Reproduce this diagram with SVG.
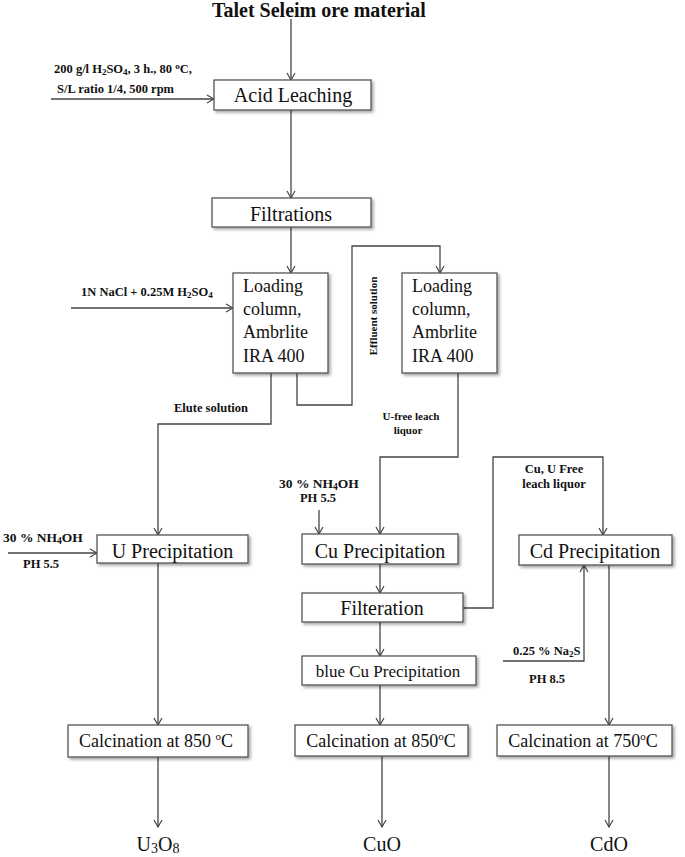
<svg xmlns="http://www.w3.org/2000/svg" width="685" height="857" viewBox="0 0 685 857">
<style>
.box{fill:#fff;stroke:#555;stroke-width:1.3;filter:url(#sh)}
.t{font-family:"Liberation Serif","Times New Roman",serif;fill:#111}
.big{font-size:20px}
.mid{font-size:18px}
.lbl{font-size:11px;font-weight:bold}
.lb2{font-size:12.5px;font-weight:bold}
.lb3{font-size:13.5px;font-weight:bold}
.c{text-anchor:middle}
.con{fill:none;stroke:#444;stroke-width:1.3}
.arr{marker-end:url(#ah)}
</style>
<defs>
<filter id="sh" x="-10%" y="-20%" width="125%" height="150%">
<feDropShadow dx="2" dy="2" stdDeviation="1.6" flood-color="#000" flood-opacity="0.35"/>
</filter>
<marker id="ah" markerWidth="10" markerHeight="10" refX="9" refY="5" orient="auto" markerUnits="userSpaceOnUse">
<path d="M2,1 L9,5 L2,9" fill="none" stroke="#444" stroke-width="1.2"/>
</marker>
</defs>

<g id="connectors">
<path class="con arr" d="M291,19 V80"/>
<path class="con arr" d="M51,99 H214"/>
<path class="con arr" d="M291,110 V198"/>
<path class="con arr" d="M291,227 V273"/>
<path class="con arr" d="M71,308 H233"/>
<path class="con arr" d="M297,373 V405 H352 V246 H440 V273"/>
<path class="con arr" d="M271,373 V424 H158 V535"/>
<path class="con arr" d="M8,553 H97"/>
<path class="con arr" d="M458,373 V457 H380 V534"/>
<path class="con arr" d="M319,510 V534"/>
<path class="con arr" d="M380,564 V593"/>
<path class="con arr" d="M463,608 H493 V457 H603 V535"/>
<path class="con arr" d="M380,622 V656"/>
<path class="con arr" d="M380,685 V725"/>
<path class="con arr" d="M503,661 H584 V565"/>
<path class="con arr" d="M609,565 V725"/>
<path class="con arr" d="M158,563 V725"/>
<path class="con arr" d="M158,757 V827"/>
<path class="con arr" d="M382,756 V827"/>
<path class="con arr" d="M609,756 V827"/>
</g>

<g id="labels">
<text class="t" x="212" y="17" font-size="20" font-weight="bold">Talet Seleim ore material</text>
<text class="t lb2" x="54" y="73">200 g/l H<tspan font-size="9" dy="2">2</tspan><tspan dy="-2">SO</tspan><tspan font-size="9" dy="2">4</tspan><tspan dy="-2">, 3 h., 80  </tspan><tspan font-size="9" dy="-4">o</tspan><tspan dy="4">C,</tspan></text>
<text class="t lb2" x="57" y="93">S/L ratio 1/4, 500 rpm</text>
<text class="t lb2" x="81" y="296">1N NaCl + 0.25M H<tspan font-size="9" dy="2">2</tspan><tspan dy="-2">SO</tspan><tspan font-size="9" dy="2">4</tspan></text>
<text class="t lbl" transform="translate(377,316) rotate(-90)" text-anchor="middle">Effluent solution</text>
<text class="t lb2" x="174" y="412">Elute solution</text>
<text class="t lbl c" x="411" y="420">U-free leach</text>
<text class="t lbl c" x="408" y="434">liquor</text>
<text class="t lb2 c" x="554" y="473">Cu, U Free</text>
<text class="t lb2 c" x="554" y="488">leach liquor</text>
<text class="t lb3" x="279" y="488">30 % NH<tspan font-size="9.5" dy="2">4</tspan><tspan dy="-2">OH</tspan></text>
<text class="t lb2 c" x="318" y="502">PH 5.5</text>
<text class="t lb3" x="3" y="542">30 % NH<tspan font-size="9.5" dy="2">4</tspan><tspan dy="-2">OH</tspan></text>
<text class="t lb2" x="23" y="568">PH 5.5</text>
<text class="t lb2" x="513" y="655">0.25 % Na<tspan font-size="9" dy="2">2</tspan><tspan dy="-2">S</tspan></text>
<text class="t lb2" x="529" y="683">PH 8.5</text>
<text class="t big c" x="158" y="851">U<tspan font-size="14" dy="2">3</tspan><tspan dy="-2">O</tspan><tspan font-size="14" dy="2">8</tspan></text>
<text class="t big c" x="382" y="851">CuO</text>
<text class="t big c" x="609" y="851">CdO</text>
</g>

<g id="acid-leaching">
<rect class="box" x="214" y="80" width="157" height="30"/>
<text class="t big c" x="293" y="102">Acid Leaching</text>
</g>
<g id="filtrations">
<rect class="box" x="212" y="198" width="159" height="29"/>
<text class="t big c" x="291" y="221">Filtrations</text>
</g>
<g id="loading-column-1">
<rect class="box" x="233" y="273" width="95" height="100"/>
<text class="t mid" x="243" y="292">Loading</text>
<text class="t mid" x="243" y="315">column,</text>
<text class="t mid" x="243" y="338">Ambrlite</text>
<text class="t mid" x="243" y="362">IRA 400</text>
</g>
<g id="loading-column-2">
<rect class="box" x="402" y="273" width="95" height="100"/>
<text class="t mid" x="412" y="292">Loading</text>
<text class="t mid" x="412" y="315">column,</text>
<text class="t mid" x="412" y="338">Ambrlite</text>
<text class="t mid" x="412" y="362">IRA 400</text>
</g>
<g id="u-precipitation">
<rect class="box" x="97" y="535" width="151" height="28"/>
<text class="t big c" x="172.5" y="558">U Precipitation</text>
</g>
<g id="cu-precipitation">
<rect class="box" x="302" y="534" width="156" height="30"/>
<text class="t big c" x="380" y="558">Cu Precipitation</text>
</g>
<g id="cd-precipitation">
<rect class="box" x="519" y="535" width="153" height="30"/>
<text class="t big c" x="595" y="558">Cd Precipitation</text>
</g>
<g id="filteration">
<rect class="box" x="302" y="593" width="161" height="29"/>
<text class="t big c" x="382" y="615">Filteration</text>
</g>
<g id="blue-cu-precipitation">
<rect class="box" x="302" y="656" width="174" height="29"/>
<text class="t c" x="388" y="677" font-size="17">blue Cu Precipitation</text>
</g>
<g id="calcination-u">
<rect class="box" x="68" y="725" width="180" height="32"/>
<text class="t mid c" x="156" y="747">Calcination at 850 <tspan font-size="11" dy="-7">o</tspan><tspan dy="7">C</tspan></text>
</g>
<g id="calcination-cu">
<rect class="box" x="295" y="725" width="173" height="31"/>
<text class="t mid c" x="381" y="747">Calcination at 850<tspan font-size="11" dy="-7">o</tspan><tspan dy="7">C</tspan></text>
</g>
<g id="calcination-cd">
<rect class="box" x="497" y="725" width="175" height="31"/>
<text class="t mid c" x="583" y="747">Calcination at 750<tspan font-size="11" dy="-7">o</tspan><tspan dy="7">C</tspan></text>
</g>
</svg>
